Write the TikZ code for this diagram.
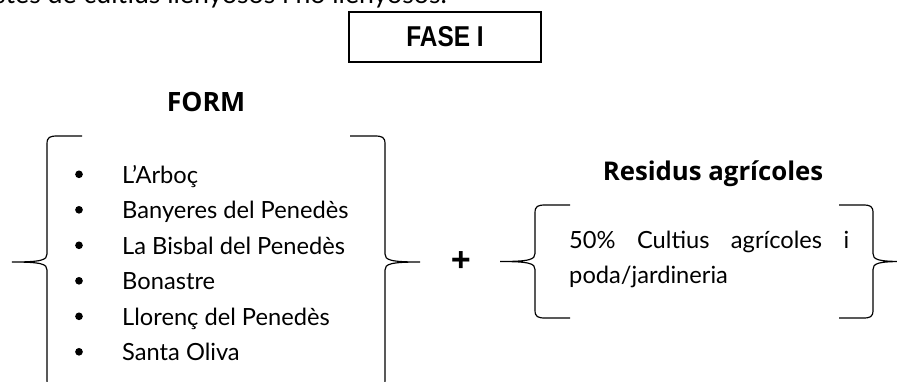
\documentclass[tikz,border=0pt]{standalone}
\usepackage{fontspec}
\usepackage{graphicx}
\setmainfont{Lato}
\newfontfamily\condfont{Liberation Sans}
\newfontfamily\headfont{Open Sans}
\usetikzlibrary{positioning}

\newcommand{\bodysize}{\fontsize{20.2}{30.3}\selectfont}

% curly bracket: stem x, top y, bottom y, serif offset, tip offset
\newcommand{\wordbrace}[5]{%
  \draw[brace] ({#1+(#4)},#2) -- ({#1+0.3*(#4)},#2)
    .. controls ({#1+0.08*(#4)},#2) and (#1,{#2+1}) .. (#1,{#2+8})
    -- (#1,{(#2+#3)/2-8})
    .. controls (#1,{(#2+#3)/2-2}) and ({#1+0.15*(#5)},{(#2+#3)/2}) .. ({#1+(#5)},{(#2+#3)/2})
    .. controls ({#1+0.15*(#5)},{(#2+#3)/2}) and (#1,{(#2+#3)/2+2}) .. (#1,{(#2+#3)/2+8})
    -- (#1,{#3-8})
    .. controls (#1,{#3-1}) and ({#1+0.08*(#4)},#3) .. ({#1+0.3*(#4)},#3)
    -- ({#1+(#4)},#3);}

\tikzset{
  brace/.style={line width=1pt},
  phasebox/.style={draw, line width=1pt, minimum width=5.76cm, minimum height=1.5cm},
  heading/.style={inner sep=0, font=\headfont\bfseries\fontsize{22.7}{24}\selectfont},
  town/.style={inner sep=0, anchor=base west, font=\bodysize},
  dot/.style={circle, fill, inner sep=0, minimum size=0.23cm},
}

\begin{document}
\begin{tikzpicture}[x=0.03cm, y=-0.03cm]
  \useasboundingbox (0,0) rectangle (897,381);
  \clip (0,0) rectangle (897,381);

  % running text above the box
  \node[town, anchor=base east, font=\fontsize{22.8}{30}\selectfont] (intro) at (447,3)
    {restes de cultius llenyosos i no llenyosos.};

  \node[phasebox] (fase) at (445,37)
    {\condfont\bfseries\fontsize{24.5}{25}\selectfont\scalebox{0.85}[1]{FASE I}};

  % municipalities
  \node[heading] (form) at (206,101.5) {FORM};
  \foreach \t [count=\i] in {L’Arboç, Banyeres del Penedès, La Bisbal del Penedès,
      Bonastre, Llorenç del Penedès, Santa Oliva} {
    \node[dot] (dot\i) at (79,{174.3+35.5*(\i-1)}) {};
    \node[town] (town\i) at (122,{183+35.5*(\i-1)}) {\t};
  }
  \wordbrace{47}{136}{388}{35}{-35}
  \wordbrace{385}{136}{388}{-35}{35}

  \node[heading, font=\headfont\bfseries\fontsize{30}{30}\selectfont] (plus) at (461,262) {+};

  % agricultural residues
  \node[heading, anchor=base, font=\headfont\bfseries\fontsize{22}{24}\selectfont] (residus) at (713,180)
    {Residus agrícoles};
  \node[town, text width=8.4cm, align=left] (resdesc) at (569,248)
    {50\%\hfill Cultius\hfill agrícoles\hfill i\\poda/jardineria};
  \wordbrace{535}{205}{318}{35}{-35}
  \wordbrace{873}{205}{318}{-34}{30}
\end{tikzpicture}
\end{document}
